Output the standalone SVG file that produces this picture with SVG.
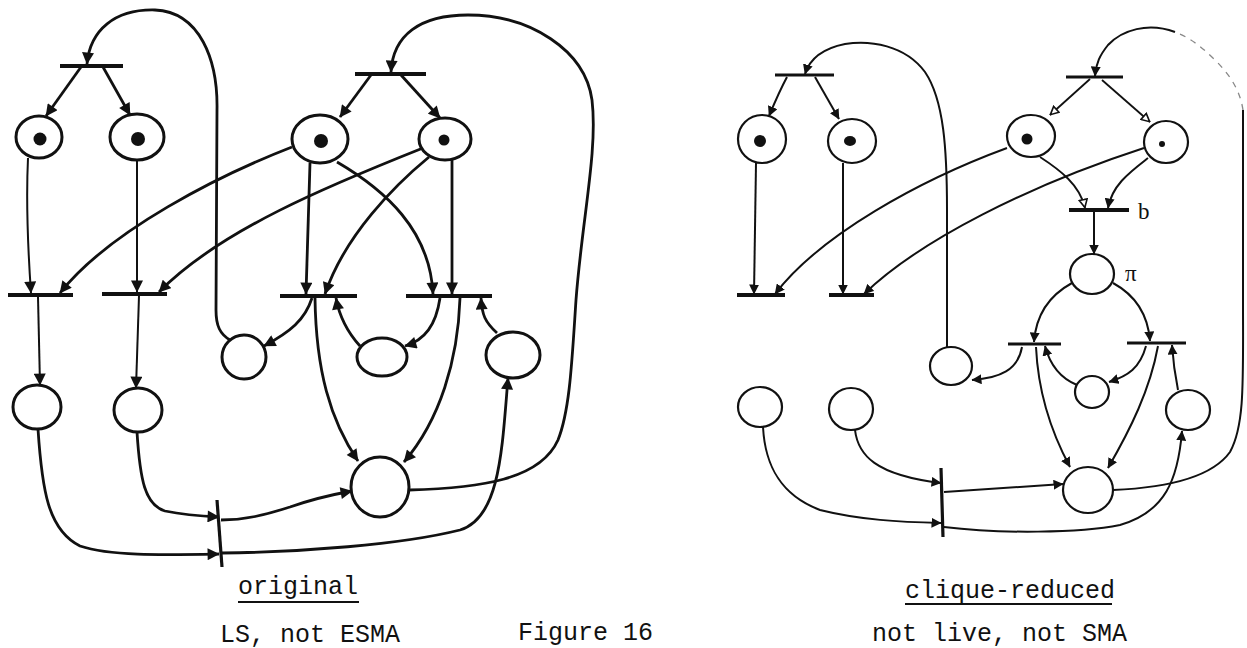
<svg xmlns="http://www.w3.org/2000/svg" width="1247" height="648" viewBox="0 0 1247 648">
<defs>
<marker id="ah" viewBox="0 0 10 10" refX="9.5" refY="5" markerWidth="13" markerHeight="12" markerUnits="userSpaceOnUse" orient="auto">
<path d="M0,0 L10,5 L0,10 Z" fill="#111"/>
</marker>
<marker id="ahs" viewBox="0 0 10 10" refX="9.5" refY="5" markerWidth="10" markerHeight="10" markerUnits="userSpaceOnUse" orient="auto">
<path d="M0,0 L10,5 L0,10 Z" fill="#111"/>
</marker>
<marker id="ho" viewBox="0 0 10 10" refX="9.5" refY="5" markerWidth="10" markerHeight="10" markerUnits="userSpaceOnUse" orient="auto">
<path d="M1,1 L9,5 L1,9 Z" fill="#fff" stroke="#111" stroke-width="1.6"/>
</marker>
</defs>
<style>
.bg{fill:#fff}
.pl{fill:#fff;stroke:#111;stroke-width:3}
.pr{fill:#fff;stroke:#111;stroke-width:2.2}
.tk{fill:#111}
.tr{stroke:#111;stroke-width:4;stroke-linecap:butt}
.trr{stroke:#111;stroke-width:3.2}
.a{fill:none;stroke:#111;stroke-width:2.8;marker-end:url(#ah)}
.at{fill:none;stroke:#111;stroke-width:2;marker-end:url(#ah)}
.ar{fill:none;stroke:#111;stroke-width:2;marker-end:url(#ahs)}
.ao{fill:none;stroke:#111;stroke-width:1.8;marker-end:url(#ho)}
.ln{fill:none;stroke:#111;stroke-width:2}
.faint{fill:none;stroke:#888;stroke-width:1.3;stroke-dasharray:6 6}
.txt{font-family:"Liberation Mono","Courier New",monospace;font-size:25px;fill:#111}
.lbl{font-family:"Liberation Serif","Times New Roman",serif;font-size:23px;fill:#111}
</style>
<rect class="bg" width="1247" height="648"/>

<g id="connectors">
<!-- left diagram -->
<path class="a" d="M 230,340 C 220,334 216,326 216,310 L 217,110 C 218,60 200,12 155,10 C 115,9 90,30 87,64"/>
<path class="a" d="M 81,67 L 46,116"/>
<path class="a" d="M 103,67 L 130,115"/>
<path class="a" d="M 371,75 L 340,117"/>
<path class="a" d="M 401,75 L 440,118"/>
<path class="a" d="M 409,490 C 480,488 540,480 558,440 C 570,410 572,360 576,300 C 582,220 598,150 592,100 C 585,50 530,15 468,15 C 420,15 393,35 391,72"/>
<path class="at" d="M 28,158 C 26,200 28,250 31,293"/>
<path class="a" d="M 292,147 C 220,175 110,230 60,293"/>
<path class="at" d="M 137,160 L 137,292"/>
<path class="a" d="M 423,148 C 330,185 220,230 159,292"/>
<path class="a" d="M 310,163 L 306,294"/>
<path class="a" d="M 429,157 C 395,185 345,235 325,294"/>
<path class="a" d="M 337,162 C 385,190 430,230 433,294"/>
<path class="a" d="M 452,160 L 452,294"/>
<path class="at" d="M 38,297 L 40,385"/>
<path class="at" d="M 139,296 L 136,388"/>
<path class="a" d="M 312,298 C 305,320 290,332 264,346"/>
<path class="a" d="M 315,298 C 316,370 330,420 358,461"/>
<path class="a" d="M 360,346 C 350,335 340,320 336,298"/>
<path class="a" d="M 440,298 C 436,325 425,340 405,346"/>
<path class="a" d="M 460,298 C 458,360 440,420 404,462"/>
<path class="a" d="M 497,333 C 485,322 482,315 481,298"/>
<path class="a" d="M 137,432 C 140,480 145,505 165,511 C 185,515 200,516 219,517"/>
<path class="a" d="M 38,429 C 42,490 48,530 80,546 C 110,556 160,555 219,554"/>
<path class="a" d="M 221,520 C 245,520 265,515 290,507 C 310,500 330,495 352,491"/>
<path class="a" d="M 222,553 C 300,552 400,545 460,530 C 500,518 502,450 508,378"/>

<!-- right diagram -->
<path class="ar" d="M 947,347 L 947,210 C 947,150 944,100 925,72 C 905,45 870,40 845,44 C 825,48 810,58 805,74"/>
<path class="ar" d="M 787,77 C 780,90 774,104 769,116"/>
<path class="ar" d="M 815,77 L 839,119"/>
<path class="ar" d="M 756,163 L 754,294"/>
<path class="ar" d="M 1007,148 C 920,180 820,235 775,294"/>
<path class="ar" d="M 843,163 L 843,294"/>
<path class="ar" d="M 1144,148 C 1030,185 920,240 864,294"/>
<path class="ao" d="M 1090,79 L 1050,115"/>
<path class="ao" d="M 1102,80 L 1150,122"/>
<path class="ln" d="M 1113,490 C 1160,488 1210,480 1230,452 C 1245,425 1243,380 1243,300 L 1243,110"/>
<path class="faint" d="M 1243,110 C 1240,90 1230,75 1215,60 C 1200,45 1188,37 1175,32"/>
<path class="ar" d="M 1175,32 C 1148,22 1122,30 1108,45 C 1100,55 1096,63 1095,76"/>
<path class="ao" d="M 1040,157 C 1060,170 1080,185 1085,208"/>
<path class="ar" d="M 1148,158 C 1130,172 1112,185 1108,208"/>
<path class="ar" d="M 1094,212 L 1094,254"/>
<path class="ar" d="M 1072,283 C 1050,295 1036,315 1034,342"/>
<path class="ar" d="M 1113,283 C 1135,295 1148,315 1150,341"/>
<path class="ar" d="M 1022,347 C 1018,370 1000,378 972,380"/>
<path class="ar" d="M 1077,385 C 1060,378 1050,365 1045,346"/>
<path class="ar" d="M 1146,346 C 1140,368 1128,376 1109,382"/>
<path class="ar" d="M 1036,347 C 1038,390 1050,430 1070,467"/>
<path class="ar" d="M 1158,346 C 1150,390 1130,430 1108,468"/>
<path class="ar" d="M 1178,390 C 1175,375 1173,360 1172,345"/>
<path class="ar" d="M 855,430 C 858,455 875,475 941,483"/>
<path class="ar" d="M 763,427 C 765,465 780,495 820,510 C 860,520 900,522 941,523"/>
<path class="ar" d="M 944,492 L 1063,484"/>
<path class="ar" d="M 944,527 C 1000,534 1080,533 1120,525 C 1165,512 1178,480 1182,431"/>
</g>

<!-- left transitions -->
<g id="T1"><line class="tr" x1="60" y1="66" x2="123" y2="66"/></g>
<g id="T2"><line class="tr" x1="355" y1="74" x2="426" y2="74"/></g>
<g id="Ta"><line class="tr" x1="8" y1="295" x2="73" y2="295"/></g>
<g id="Tb"><line class="tr" x1="102" y1="294" x2="167" y2="294"/></g>
<g id="Tc"><line class="tr" x1="280" y1="296" x2="357" y2="296"/></g>
<g id="Td"><line class="tr" x1="406" y1="296" x2="492" y2="296"/></g>
<g id="Te"><line class="trr" x1="217" y1="500" x2="222" y2="567"/></g>

<!-- left places -->
<g id="P1"><ellipse class="pl" cx="39" cy="137" rx="23" ry="21"/><circle class="tk" cx="40" cy="139" r="6.5"/></g>
<g id="P2"><ellipse class="pl" cx="137" cy="137" rx="27" ry="23"/><circle class="tk" cx="138" cy="139" r="7"/></g>
<g id="P3"><ellipse class="pl" cx="320" cy="139" rx="28" ry="24"/><circle class="tk" cx="321" cy="141" r="7"/></g>
<g id="P4"><ellipse class="pl" cx="445" cy="139" rx="26" ry="21"/><circle class="tk" cx="444" cy="140" r="5.5"/></g>
<g id="Pa"><ellipse class="pl" cx="244" cy="357" rx="22" ry="22"/></g>
<g id="Pb"><ellipse class="pl" cx="382" cy="357" rx="25" ry="19"/></g>
<g id="Pc"><ellipse class="pl" cx="513" cy="355" rx="27" ry="23"/></g>
<g id="P5"><ellipse class="pl" cx="37" cy="407" rx="24" ry="22"/></g>
<g id="P6"><ellipse class="pl" cx="138" cy="410" rx="24" ry="22"/></g>
<g id="Pbig"><ellipse class="pl" cx="380" cy="487" rx="29" ry="30"/></g>

<!-- right transitions -->
<g id="T3"><line class="trr" x1="775" y1="75" x2="834" y2="75"/></g>
<g id="T4"><line class="trr" x1="1066" y1="77" x2="1123" y2="77"/></g>
<g id="Tb6"><line class="tr" x1="1069" y1="210" x2="1129" y2="210"/><text class="lbl" x="1138" y="219">b</text></g>
<g id="T5"><line class="tr" x1="737" y1="295" x2="785" y2="295"/></g>
<g id="T6"><line class="tr" x1="829" y1="295" x2="874" y2="295"/></g>
<g id="T7"><line class="trr" x1="1008" y1="344" x2="1061" y2="344"/></g>
<g id="T8"><line class="trr" x1="1127" y1="343" x2="1186" y2="343"/></g>
<g id="T9"><line class="trr" x1="941" y1="468" x2="943" y2="537"/></g>

<!-- right places -->
<g id="P7"><ellipse class="pr" cx="762" cy="139" rx="24" ry="24"/><circle class="tk" cx="760" cy="141" r="6"/></g>
<g id="P8"><ellipse class="pr" cx="852" cy="141" rx="24" ry="22"/><ellipse class="tk" cx="850" cy="141" rx="6" ry="5"/></g>
<g id="P9"><ellipse class="pr" cx="1031" cy="136" rx="24" ry="21"/><circle class="tk" cx="1027" cy="139" r="5.5"/></g>
<g id="P10"><ellipse class="pr" cx="1166" cy="142" rx="22" ry="21"/><circle class="tk" cx="1162" cy="144" r="3"/></g>
<g id="P11"><ellipse class="pr" cx="1092" cy="274" rx="22" ry="20"/><text class="lbl" x="1125" y="281">π</text></g>
<g id="P12"><ellipse class="pr" cx="760" cy="407" rx="22" ry="20"/></g>
<g id="P13"><ellipse class="pr" cx="851" cy="409" rx="22" ry="21"/></g>
<g id="P14"><ellipse class="pr" cx="951" cy="366" rx="21" ry="19"/></g>
<g id="P15"><ellipse class="pr" cx="1092" cy="392" rx="17" ry="16"/></g>
<g id="P16"><ellipse class="pr" cx="1188" cy="410" rx="22" ry="20"/></g>
<g id="Pbig2"><ellipse class="pr" cx="1088" cy="490" rx="25" ry="23"/></g>

<g id="captions">
<text class="txt" x="238" y="594">original</text>
<line x1="238" y1="602" x2="359" y2="602" stroke="#111" stroke-width="2"/>
<text class="txt" x="220" y="642">LS, not ESMA</text>
<text class="txt" x="518" y="640">Figure 16</text>
<text class="txt" x="905" y="598">clique-reduced</text>
<line x1="905" y1="604" x2="1112" y2="604" stroke="#111" stroke-width="2"/>
<text class="txt" x="872" y="641">not live, not SMA</text>
</g>
</svg>
